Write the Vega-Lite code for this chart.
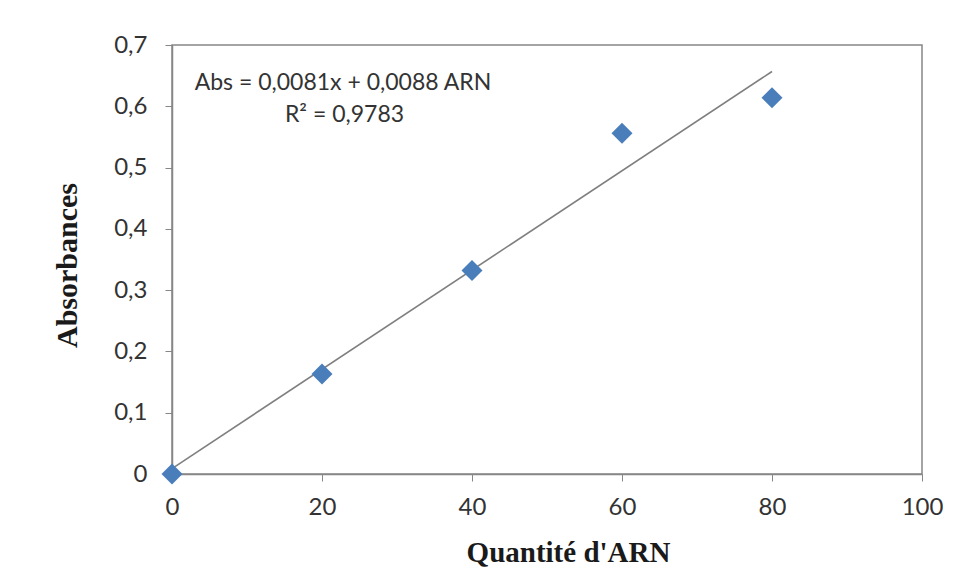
{
  "$schema": "https://vega.github.io/schema/vega-lite/v6.json",
  "autosize": {"type": "none"},
  "width": 750,
  "height": 429,
  "padding": {"left": 172, "top": 45, "right": 36, "bottom": 111},
  "background": "white",
  "config": {
    "view": {"stroke": "#868686", "strokeWidth": 1.5},
    "axis": {
      "grid": false,
      "domainColor": "#868686",
      "domainWidth": 1.5,
      "tickColor": "#868686",
      "tickSize": 7,
      "labelFlush": false,
      "labelFont": "Lato",
      "labelFontSize": 24,
      "labelColor": "#333333",
      "titleFont": "Liberation Serif",
      "titleFontWeight": "bold",
      "titleColor": "#1a1a1a"
    }
  },
  "datasets": {
    "points": [
      {"q": 0, "abs": 0.0},
      {"q": 20, "abs": 0.163},
      {"q": 40, "abs": 0.332},
      {"q": 60, "abs": 0.556},
      {"q": 80, "abs": 0.614}
    ],
    "trend": [
      {"q": 0, "abs": 0.0088},
      {"q": 80, "abs": 0.6568}
    ],
    "notes": [
      {"q": 22.8, "abs": 0.638, "label": "Abs = 0,0081x + 0,0088 ARN"},
      {"q": 23.0, "abs": 0.586, "label": "R² = 0,9783"}
    ]
  },
  "layer": [
    {
      "data": {"name": "trend"},
      "mark": {"type": "line", "color": "#7f7f7f", "strokeWidth": 1.6},
      "encoding": {
        "x": {"field": "q", "type": "quantitative", "scale": {"domain": [0, 100]},
          "axis": {"values": [0, 20, 40, 60, 80, 100], "title": "Quantité d'ARN", "titleFontSize": 29, "labelPadding": 14, "titlePadding": 19, "titleX": 396}},
        "y": {"field": "abs", "type": "quantitative", "scale": {"domain": [0, 0.7]},
          "axis": {"values": [0, 0.1, 0.2, 0.3, 0.4, 0.5, 0.6, 0.7], "title": "Absorbances", "titleFontSize": 30, "labelPadding": 18, "titlePadding": 31, "titleY": 220,
            "labelExpr": "datum.value == 0 ? '0' : replace(format(datum.value, '.1f'), '.', ',')"}}
      }
    },
    {
      "data": {"name": "points"},
      "mark": {"type": "point", "shape": "diamond", "filled": true, "color": "#4a7ebb", "size": 440, "opacity": 1},
      "encoding": {
        "x": {"field": "q", "type": "quantitative"},
        "y": {"field": "abs", "type": "quantitative"}
      }
    },
    {
      "data": {"name": "notes"},
      "mark": {"type": "text", "font": "Lato", "fontSize": 23, "color": "#333333", "align": "center", "baseline": "middle"},
      "encoding": {
        "x": {"field": "q", "type": "quantitative"},
        "y": {"field": "abs", "type": "quantitative"},
        "text": {"field": "label"}
      }
    }
  ]
}
